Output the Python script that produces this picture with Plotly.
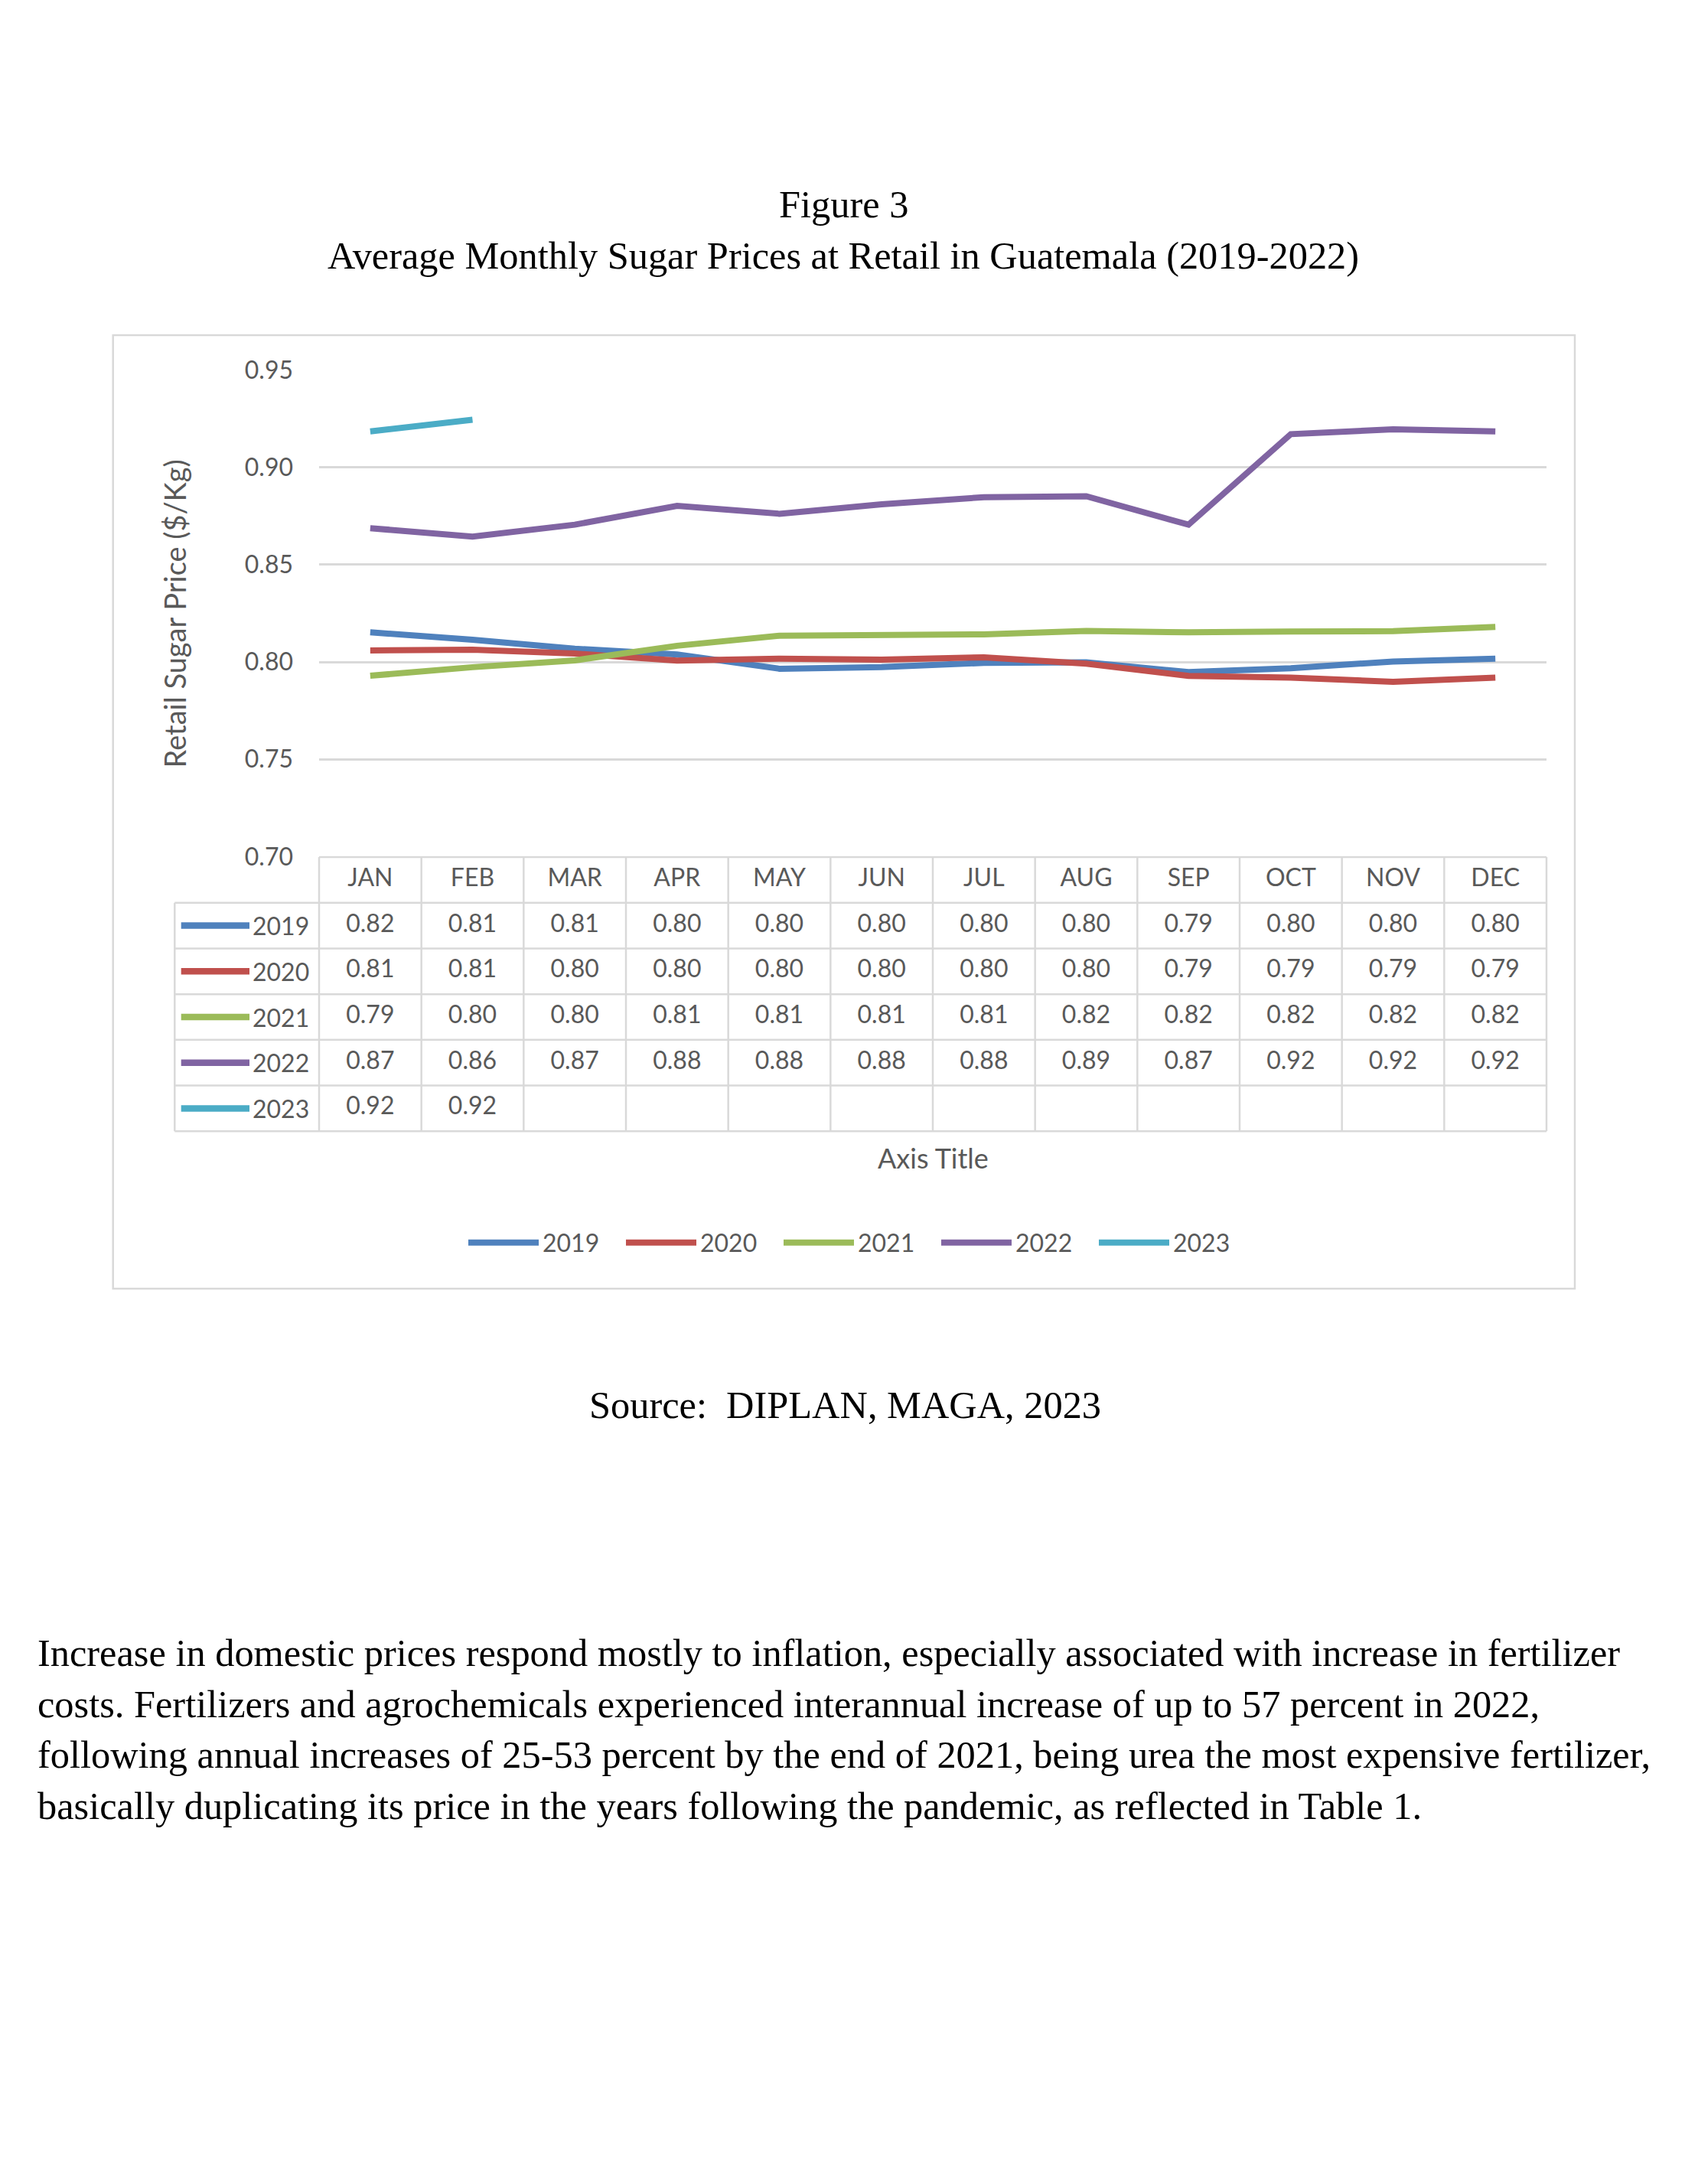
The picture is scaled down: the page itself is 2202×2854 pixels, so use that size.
import plotly.graph_objects as go

# ---------------- data ----------------
months = ["JAN", "FEB", "MAR", "APR", "MAY", "JUN", "JUL", "AUG", "SEP", "OCT", "NOV", "DEC"]
years = ["2019", "2020", "2021", "2022", "2023"]
p2019 = [0.8152, 0.8114, 0.8068, 0.8038, 0.7965, 0.7973, 0.7995, 0.7998, 0.7948, 0.7968, 0.8002, 0.8017]
p2020 = [0.8059, 0.8063, 0.8043, 0.8007, 0.8017, 0.8012, 0.8024, 0.7991, 0.7928, 0.7919, 0.7898, 0.7919]
p2021 = [0.7929, 0.7973, 0.8008, 0.8083, 0.8135, 0.8138, 0.8142, 0.8159, 0.8152, 0.8156, 0.8158, 0.8180]
p2022 = [0.8687, 0.8644, 0.8705, 0.8802, 0.8761, 0.8810, 0.8846, 0.8851, 0.8705, 0.9170, 0.9195, 0.9184]
p2023 = [0.9184, 0.9244]
series = [p2019, p2020, p2021, p2022, p2023]
colors = ["#4F81BD", "#C0504D", "#9BBB59", "#8064A2", "#4BACC6"]
y_ticks = [0.70, 0.75, 0.80, 0.85, 0.90, 0.95]

title1 = "Figure 3"
title2 = "Average Monthly Sugar Prices at Retail in Guatemala (2019-2022)"
y_title = "Retail Sugar Price ($/Kg)"
x_title = "Axis Title"
source = "Source:\u00a0 DIPLAN, MAGA, 2023"
paragraph = [
    "Increase in domestic prices respond mostly to inflation, especially associated with increase in fertilizer",
    "costs. Fertilizers and agrochemicals experienced interannual increase of up to 57 percent in 2022,",
    "following annual increases of 25-53 percent by the end of 2021, being urea the most expensive fertilizer,",
    "basically duplicating its price in the years following the pandemic, as reflected in Table 1.",
]

# ---------------- page geometry ----------------
W, H, OFF = 2202, 2854, 0


def fx(X):
    return (X - OFF) / W


def fy(Y):
    return 1 - (Y - OFF) / H


GRID = "#D9D9D9"
TXT = "#595959"
SANS = "Lato"
SERIF = "Liberation Serif"

PLOT_L, PLOT_R = 417, 2021
PLOT_T, PLOT_B = 483.4, 1119.4
TAB_L, TAB_T, TAB_B = 228.3, 1120, 1478.3
ncol = len(months)
u = (PLOT_R - PLOT_L) / ncol
nrow = len(years) + 1
v = (TAB_B - TAB_T) / nrow
pad = 0.03

fig = go.Figure()

# main lines
for name, vals, col in zip(years, series, colors):
    fig.add_trace(go.Scatter(
        x=months[:len(vals)], y=vals, name=name, mode="lines",
        line=dict(color=col, width=8), xaxis="x", yaxis="y",
        hoverinfo="skip"))

# table cell values
for i, (vals, col) in enumerate(zip(series, colors)):
    fig.add_trace(go.Scatter(
        x=months[:len(vals)], y=[i] * len(vals), text=[f"{val:.2f}" for val in vals],
        mode="text", textposition="middle center",
        textfont=dict(family=SANS, size=32, color=TXT),
        xaxis="x2", yaxis="y2", showlegend=False, hoverinfo="skip", cliponaxis=False))
# header row
fig.add_trace(go.Scatter(
    x=months, y=[-1] * ncol, text=months, mode="text", textposition="middle center",
    textfont=dict(family=SANS, size=32, color=TXT),
    xaxis="x2", yaxis="y2", showlegend=False, hoverinfo="skip", cliponaxis=False))

shapes = []
x_left = (TAB_L - PLOT_L) / u - 0.5
x_right = ncol - 0.5
y_top = -1.5
y_bot = len(years) - 0.5
lk = dict(color=GRID, width=2.5)
# vertical lines of month columns
for k in range(ncol + 1):
    shapes.append(dict(type="line", xref="x2", yref="y2", x0=k - 0.5, x1=k - 0.5,
                       y0=y_top, y1=y_bot, line=lk, layer="below"))
# legend column left edge
shapes.append(dict(type="line", xref="x2", yref="y2", x0=x_left, x1=x_left,
                   y0=-0.5, y1=y_bot, line=lk, layer="below"))
# header top
shapes.append(dict(type="line", xref="x2", yref="y2", x0=-0.5, x1=x_right,
                   y0=y_top, y1=y_top, line=lk, layer="below"))
for r in range(len(years) + 1):
    shapes.append(dict(type="line", xref="x2", yref="y2", x0=x_left, x1=x_right,
                       y0=r - 0.5, y1=r - 0.5, line=lk, layer="below"))
# legend keys inside table
kx0 = (236.7 - PLOT_L) / u - 0.5
kx1 = (326.0 - PLOT_L) / u - 0.5
for i, col in enumerate(colors):
    shapes.append(dict(type="line", xref="x2", yref="y2", x0=kx0, x1=kx1, y0=i, y1=i,
                       line=dict(color=col, width=8.5)))
# chart frame
shapes.append(dict(type="rect", xref="paper", yref="paper", x0=fx(147.7), x1=fx(2058),
                   y0=fy(1684), y1=fy(438), line=dict(color=GRID, width=2.5), layer="below"))

annotations = []
# row labels of table
for i, name in enumerate(years):
    annotations.append(dict(text=name, xref="x2", yref="y2", x=(405.7 - PLOT_L) / u - 0.5, y=i,
                            xanchor="right", yanchor="middle", showarrow=False,
                            font=dict(family=SANS, size=32, color=TXT)))
# axis titles
annotations.append(dict(text=y_title, xref="paper", yref="paper", x=fx(227.7), y=fy(801.7),
                        xanchor="center", yanchor="middle", textangle=-90, showarrow=False,
                        font=dict(family=SANS, size=38, color=TXT)))
annotations.append(dict(text=x_title, xref="paper", yref="paper", x=fx(1219), y=fy(1512.5),
                        xanchor="center", yanchor="middle", showarrow=False,
                        font=dict(family=SANS, size=36, color=TXT)))
# titles and page text
ser = dict(family=SERIF, size=50.4, color="#000000")
annotations.append(dict(text=title1, xref="paper", yref="paper", x=fx(1102), y=fy(267.1),
                        xanchor="center", yanchor="middle", showarrow=False, font=ser))
annotations.append(dict(text=title2, xref="paper", yref="paper", x=fx(1102), y=fy(333.8),
                        xanchor="center", yanchor="middle", showarrow=False, font=ser))
annotations.append(dict(text=source, xref="paper", yref="paper", x=fx(1104), y=fy(1836.4),
                        xanchor="center", yanchor="middle", showarrow=False, font=ser))
for j, line in enumerate(paragraph):
    annotations.append(dict(text=line, xref="paper", yref="paper", x=fx(47), y=fy(2159.8 + 66.7 * j),
                            xanchor="left", yanchor="middle", showarrow=False, font=ser))

fig.update_layout(
    width=W, height=H, margin=dict(l=0, r=0, t=0, b=0, autoexpand=False),
    paper_bgcolor="white", plot_bgcolor="rgba(0,0,0,0)",
    showlegend=True,
    xaxis=dict(type="category", categoryarray=months, range=[-0.5, ncol - 0.5],
               domain=[fx(PLOT_L), fx(PLOT_R)], showticklabels=False, showgrid=False,
               zeroline=False, showline=False, ticks="", anchor="y", automargin=False),
    yaxis=dict(range=[0.70, 0.95], domain=[fy(PLOT_B), fy(PLOT_T)], tickvals=y_ticks,
               tickformat=".2f", showgrid=True, gridcolor=GRID, gridwidth=2.5,
               zeroline=False, showline=False, ticks="", ticklabelstandoff=33,
               tickfont=dict(family=SANS, size=32, color=TXT), anchor="x", automargin=False),
    xaxis2=dict(type="category", categoryarray=months,
                range=[x_left - pad, x_right + pad],
                domain=[fx(TAB_L - pad * u), fx(PLOT_R + pad * u)], visible=False, anchor="y2",
                automargin=False),
    yaxis2=dict(range=[y_bot + pad, y_top - pad],
                domain=[fy(TAB_B + pad * v), fy(TAB_T - pad * v)], visible=False, anchor="x2",
                automargin=False),
    legend=dict(orientation="h", x=fx(607), xanchor="left", y=fy(1624), yanchor="middle",
                font=dict(family=SANS, size=32, color=TXT), itemwidth=92, entrywidth=99,
                bgcolor="rgba(0,0,0,0)", traceorder="normal"),
    shapes=shapes, annotations=annotations,
)

post = ("document.body.style.margin='0';document.body.style.overflow='hidden';"
        "var d=document.getElementById('{plot_id}');"
        "d.style.position='absolute';d.style.left='0px';d.style.top='0px';")
fig.write_html("out.html", post_script=post, config={"displayModeBar": False})
